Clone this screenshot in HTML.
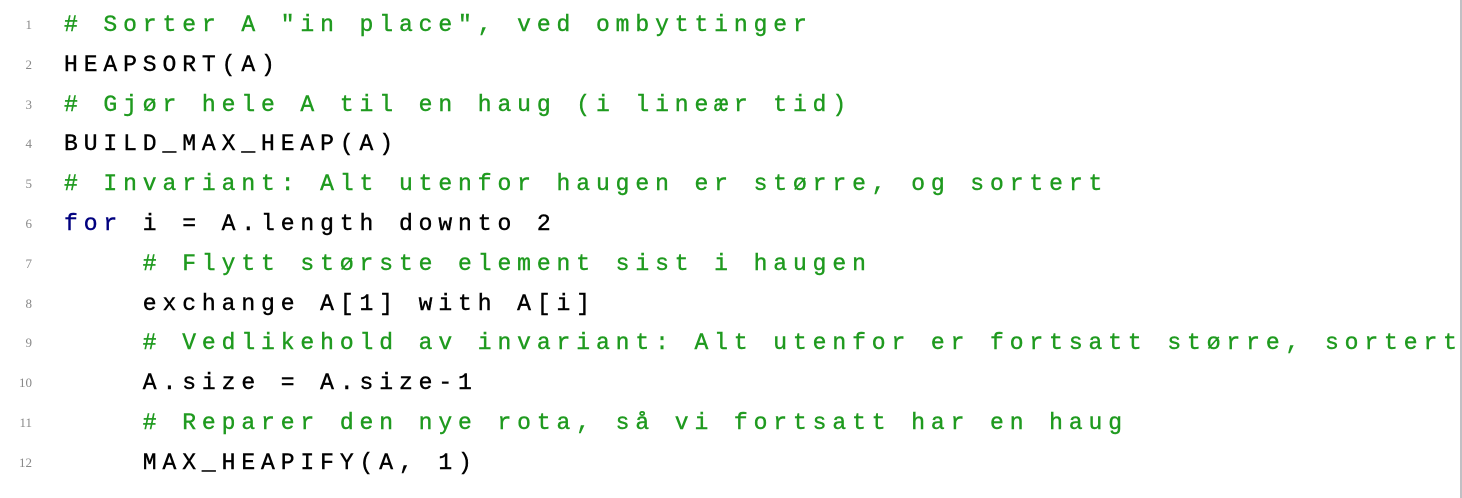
<!DOCTYPE html>
<html><head><meta charset="utf-8"><style>
html,body{margin:0;padding:0;background:#fff;}
body{width:1462px;height:498px;position:relative;overflow:hidden;}
.r{position:absolute;left:0;height:40px;width:1462px;}
.n{position:absolute;right:1430px;font-family:"Liberation Serif",serif;font-size:13px;color:#888;}
.c{position:absolute;left:64px;font-family:"Liberation Mono",monospace;font-size:23px;letter-spacing:5.9px;white-space:pre;color:#000;-webkit-text-stroke:0.4px currentColor;}
.g{color:#1f9a1f;}
.k{color:#00007f;}
.bar{position:absolute;right:0;top:0;width:2px;height:498px;background:#c0c0c4;}
</style></head><body>
<div class="bar"></div>
<div class="r" style="top:0"><span class="n" style="top:17px">1</span><span class="c g" style="top:12px"># Sorter A "in place", ved ombyttinger</span></div>
<div class="r" style="top:39.8px"><span class="n" style="top:17px">2</span><span class="c" style="top:12px">HEAPSORT(A)</span></div>
<div class="r" style="top:79.6px"><span class="n" style="top:17px">3</span><span class="c g" style="top:12px"># Gjør hele A til en haug (i lineær tid)</span></div>
<div class="r" style="top:119.4px"><span class="n" style="top:17px">4</span><span class="c" style="top:12px">BUILD_MAX_HEAP(A)</span></div>
<div class="r" style="top:159.2px"><span class="n" style="top:17px">5</span><span class="c g" style="top:12px"># Invariant: Alt utenfor haugen er større, og sortert</span></div>
<div class="r" style="top:199px"><span class="n" style="top:17px">6</span><span class="c" style="top:12px"><span class="k">for</span> i = A.length downto 2</span></div>
<div class="r" style="top:238.8px"><span class="n" style="top:17px">7</span><span class="c g" style="top:12px">    # Flytt største element sist i haugen</span></div>
<div class="r" style="top:278.6px"><span class="n" style="top:17px">8</span><span class="c" style="top:12px">    exchange A[1] with A[i]</span></div>
<div class="r" style="top:318.4px"><span class="n" style="top:17px">9</span><span class="c g" style="top:12px">    # Vedlikehold av invariant: Alt utenfor er fortsatt større, sortert</span></div>
<div class="r" style="top:358.2px"><span class="n" style="top:17px">10</span><span class="c" style="top:12px">    A.size = A.size-1</span></div>
<div class="r" style="top:398px"><span class="n" style="top:17px">11</span><span class="c g" style="top:12px">    # Reparer den nye rota, så vi fortsatt har en haug</span></div>
<div class="r" style="top:437.8px"><span class="n" style="top:17px">12</span><span class="c" style="top:12px">    MAX_HEAPIFY(A, 1)</span></div>
</body></html>
